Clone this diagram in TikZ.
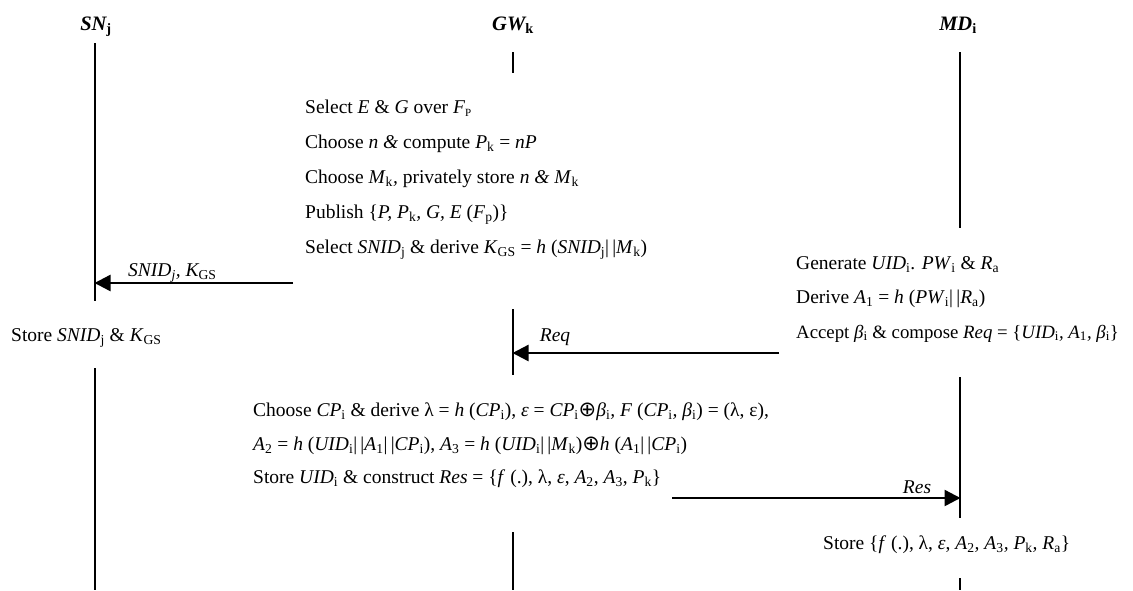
\documentclass[tikz,border=0pt]{standalone}
\usepackage{fontspec}
\setmainfont{Liberation Serif}
\newfontfamily\symf{DejaVu Sans}
\usetikzlibrary{arrows.meta}
\newcommand{\concat}{|\,|}
\newcommand{\isub}[2]{\textit{#1}\textsubscript{#2}}
\newcommand{\bfs}{\fontsize{19.5}{23}\selectfont}
\newcommand{\smallP}{{\fontsize{11}{11}\selectfont P}}
\newcommand{\xorop}{{\symf\fontsize{21}{21}\selectfont ⊕}}
\begin{document}
\begin{tikzpicture}[x=1pt,y=-1pt,
  txt/.style={anchor=base west, inner sep=0pt, font=\bfs},
  head/.style={anchor=base, inner sep=0pt, font=\fontsize{20.5}{24}\selectfont\bfseries\itshape},
  lab/.style={anchor=base west, inner sep=0pt, font=\bfs\itshape},
  life/.style={line width=2.2pt},
  msg/.style={line width=2.4pt, -{Triangle[length=16pt,width=16pt]}, shorten >=-0.5pt}]
\useasboundingbox (0,0) rectangle (1133,590);

% headings
\node[head] (hsn) at (96,30) {SN\textsubscript{\textup{j}}};
\node[head] (hgw) at (513,30) {GW\textsubscript{\textup{k}}};
\node[head] (hmd) at (958,30) {MD\textsubscript{\textup{i}}};

% lifeline coordinates
\coordinate (sn1) at (95,43);  \coordinate (sn2) at (95,301);
\coordinate (sn3) at (95,368); \coordinate (sn4) at (95,590);
\coordinate (gw1) at (513,52); \coordinate (gw2) at (513,73);
\coordinate (gw3) at (513,309); \coordinate (gw4) at (513,375);
\coordinate (gw5) at (513,532); \coordinate (gw6) at (513,590);
\coordinate (md1) at (960,52); \coordinate (md2) at (960,228);
\coordinate (md3) at (960,377); \coordinate (md4) at (960,518);
\coordinate (md5) at (960,578); \coordinate (md6) at (960,590);

\draw[life] (sn1) -- (sn2);
\draw[life] (sn3) -- (sn4);
\draw[life] (gw1) -- (gw2);
\draw[life] (gw3) -- (gw4);
\draw[life] (gw5) -- (gw6);
\draw[life] (md1) -- (md2);
\draw[life] (md3) -- (md4);
\draw[life] (md5) -- (md6);

% message endpoints
\coordinate (m1s) at (293,283); \coordinate (m1e) at (95,283);
\coordinate (m2s) at (779,353); \coordinate (m2e) at (513,353);
\coordinate (m3s) at (672,498); \coordinate (m3e) at (960,498);
\draw[msg] (m1s) -- (m1e);
\draw[msg] (m2s) -- (m2e);
\draw[msg] (m3s) -- (m3e);

% GW setup block
\node[txt] (g1) at (305,113) {Select \textit{E} \& \textit{G} over \textit{F}\textsubscript{\smallP}};
\node[txt] (g2) at (305,148) {Choose \textit{n \& }compute \isub{P}{k} = \textit{nP}};
\node[txt] (g3) at (305,183) {Choose \isub{M}{k}\textit{,} privately store \textit{n \& }\isub{M}{k}};
\node[txt] (g4) at (305,218) {Publish \{\textit{P,} \isub{P}{k}\textit{, G, E} (\isub{F}{p})\}};
\node[txt] (g5) at (305,253) {Select \isub{SNID}{j} \& derive \isub{K}{GS} = \textit{h} (\isub{SNID}{j}\concat\isub{M}{k})};

% message labels
\node[lab] (l1) at (128,276) {SNID\textsubscript{j}, K\textsubscript{\textup{GS}}};
\node[anchor=base, inner sep=0pt, font=\bfs\itshape] (l2) at (555,341) {Req};
\node[anchor=base, inner sep=0pt, font=\bfs\itshape] (l3) at (917,493) {Res};

% SN store
\node[txt] (s1) at (11,341) {Store \isub{SNID}{j} \& \isub{K}{GS}};

% MD block
\node[txt] (d1) at (796,269) {Generate \isub{UID}{i}. \isub{PW}{i} \& \isub{R}{a}};
\node[txt] (d2) at (796,303) {Derive \isub{A}{1} = \textit{h} (\isub{PW}{i}\concat\isub{R}{a})};
\node[txt, font=\fontsize{18.8}{23}\selectfont] (d3) at (796,338) {Accept \isub{β}{i} \& compose \textit{Req} = \{\isub{UID}{i}\textit{,} \isub{A}{1}\textit{,} \isub{β}{i}\}};

% GW response block
\node[txt] (c1) at (253,416) {Choose \isub{CP}{i} \& derive λ = \textit{h} (\isub{CP}{i}), \textit{ε} = \isub{CP}{i}\xorop\isub{β}{i}\textit{,} \textit{F} (\isub{CP}{i}\textit{,} \isub{β}{i}) = (λ, ε),};
\node[txt] (c2) at (253,450) {\isub{A}{2} = \textit{h} (\isub{UID}{i}\concat\isub{A}{1}\concat\isub{CP}{i}), \isub{A}{3} = \textit{h} (\isub{UID}{i}\concat\isub{M}{k})\xorop\textit{h} (\isub{A}{1}\concat\isub{CP}{i})};
\node[txt] (c3) at (253,483) {Store \isub{UID}{i} \& construct \textit{Res} = \{\textit{f} (.), λ, \textit{ε}, \isub{A}{2}, \isub{A}{3}, \isub{P}{k}\}};

% MD store
\node[txt] (d4) at (823,549) {Store \{\textit{f} (.), λ, \textit{ε}, \isub{A}{2}\textit{,} \isub{A}{3}\textit{,} \isub{P}{k}\textit{,} \isub{R}{a}\}};
\end{tikzpicture}
\end{document}
